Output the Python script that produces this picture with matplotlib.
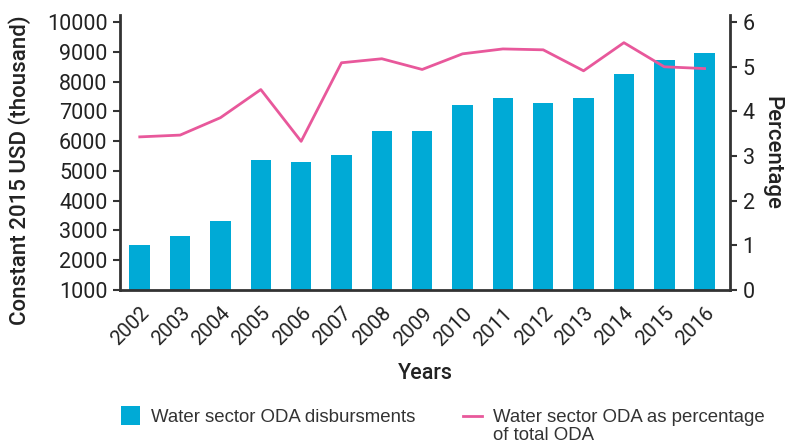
import matplotlib
matplotlib.use("Agg")
import matplotlib.pyplot as plt
import matplotlib.transforms as mtransforms
from matplotlib.lines import Line2D
from matplotlib.patches import Rectangle

years = ["2002", "2003", "2004", "2005", "2006", "2007", "2008", "2009",
         "2010", "2011", "2012", "2013", "2014", "2015", "2016"]
oda_disbursments = [2520, 2820, 3330, 5380, 5310, 5550, 6325, 6325,
                    7200, 7440, 7270, 7440, 8250, 8720, 8950]
oda_percentage = [3.43, 3.47, 3.86, 4.49, 3.33, 5.09, 5.18, 4.94,
                  5.29, 5.40, 5.38, 4.91, 5.54, 5.00, 4.96]
legend_labels = ["Water sector ODA disbursments",
                 "Water sector ODA as percentage\nof total ODA"]

bar_color = "#00AAD6"
line_color = "#E8589B"
text_color = "#222222"
spine_color = "#333333"

plt.rcParams['font.family'] = ['Roboto', 'DejaVu Sans']

W, H = 791, 446
fig = plt.figure(figsize=(W / 100, H / 100), dpi=100)
ax = fig.add_axes([120 / W, 1 - 290 / H, 610 / W, 275 / H])
x = list(range(len(years)))
ax.bar(x, oda_disbursments, width=0.51, color=bar_color, bottom=0, zorder=2)
ax.set_ylim(1000, 10236)
ax.set_xlim(-0.49, 14.63)
ax.set_yticks(range(1000, 10001, 1000))
ax.set_xticks(x)
ax.set_xticklabels(years, rotation=45, ha="right", va="top", rotation_mode="anchor")
offset = mtransforms.ScaledTranslation(5 / 100, 0, fig.dpi_scale_trans)
for lbl in ax.get_xticklabels():
    lbl.set_transform(lbl.get_transform() + offset)
ax.tick_params(axis="x", length=0, pad=10, labelsize=14.5, colors=text_color)
ax.tick_params(axis="y", length=5, width=1.5, pad=4, labelsize=15.5, colors=text_color, color=spine_color)
for s in ["top", "right"]:
    ax.spines[s].set_visible(False)
for s in ["left", "bottom"]:
    ax.spines[s].set_linewidth(2)
    ax.spines[s].set_color(spine_color)
ax.set_ylabel("Constant 2015 USD (thousand)", fontsize=16, fontweight="medium",
              color=text_color)
ax.yaxis.set_label_coords(-0.146, 0.436)
ax.set_xlabel("Years", fontsize=15.5, fontweight="medium", color=text_color, labelpad=10)

ax2 = ax.twinx()
ax2.plot(x, oda_percentage, color=line_color, lw=2, zorder=3)
ax2.set_ylim(0, 6.16)
ax2.set_yticks(range(0, 7))
ax2.tick_params(axis="y", length=5, width=1.5, pad=4, labelsize=15.5, colors=text_color, color=spine_color)
for s in ["top", "left", "bottom"]:
    ax2.spines[s].set_visible(False)
ax2.spines["right"].set_linewidth(2)
ax2.spines["right"].set_color(spine_color)
ax2.set_ylabel("Percentage", fontsize=16, fontweight="medium", color=text_color,
               rotation=270, labelpad=20)

# legend drawn in figure pixel coordinates
def fx(px):
    return px / W

def fy(py):
    return 1 - py / H

leg_font = ['Liberation Sans', 'DejaVu Sans']
fig.add_artist(Rectangle((fx(121), fy(425)), 19 / W, 19 / H, transform=fig.transFigure,
                         facecolor=bar_color, edgecolor="none"))
fig.text(fx(151), fy(422.5), legend_labels[0], fontsize=13.4, color="#333333",
         va="baseline", ha="left", family=leg_font)
fig.add_artist(Line2D([fx(463), fx(482)], [fy(416), fy(416)], transform=fig.transFigure,
                      color=line_color, lw=2))
fig.text(fx(493), fy(408.5), legend_labels[1], fontsize=13.4, color="#333333",
         va="top", ha="left", linespacing=1.15, family=leg_font)

fig.savefig("out.png", dpi=100)
